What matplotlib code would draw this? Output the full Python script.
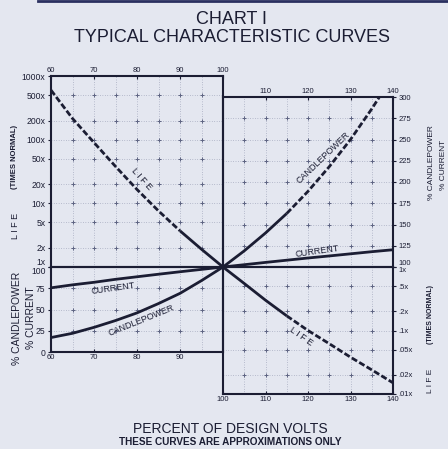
import numpy as np
import matplotlib.pyplot as plt
from matplotlib.lines import Line2D
from matplotlib.ticker import NullLocator

W, H = 448, 449
BG = '#e4e7f0'
INK = '#1b1d33'
GRID = '#8c92ab'
FONT = 'Liberation Sans'

# values, x = percent of design volts
volts_low = [60, 65, 70, 75, 80, 85, 90, 95, 100]
life_low = [600, 215, 90, 38, 16.5, 7.6, 3.7, 1.9, 1.0]
current_low = [75.5, 79, 82, 85.5, 88.5, 91.5, 94.4, 97.2, 100]
cp_low = [17, 22, 29, 37, 46, 57, 69, 84, 100]

volts_high = [100, 105, 110, 115, 120, 125, 130, 135, 140]
life_high = [1.0, 0.55, 0.30, 0.17, 0.10, 0.062, 0.038, 0.024, 0.015]
current_high = [100, 102.7, 105.4, 108, 110.6, 113, 115.5, 118, 120.3]
cp_high = [100, 119, 140, 163, 189, 218, 250, 286, 325]

# tick labels
life_up_ticks = [1000, 500, 200, 100, 50, 20, 10, 5, 2, 1]
life_up_labels = ['1000x', '500x', '200x', '100x', '50x', '20x', '10x', '5x', '2x', '1x']
pct_low_ticks = [0, 25, 50, 75, 100]
pct_high_ticks = [100, 125, 150, 175, 200, 225, 250, 275, 300]
life_down_ticks = [1, 0.5, 0.2, 0.1, 0.05, 0.02, 0.01]
life_down_labels = ['1x', '.5x', '.2x', '.1x', '.05x', '.02x', '.01x']


def panel(fig, x0, y0, x1, y1):
    ax = fig.add_axes([x0 / W, 1 - y1 / H, (x1 - x0) / W, (y1 - y0) / H])
    ax.set_facecolor('none')
    for sp in ax.spines.values():
        sp.set_linewidth(1.5)
        sp.set_color(INK)
    ax.tick_params(labelsize=5.5, pad=1.5, length=2.5, width=0.8,
                   colors=INK, labelfontfamily=FONT)
    return ax


def grid(ax, gx, gy):
    for v in gx:
        ax.axvline(v, color=GRID, lw=0.5, ls=(0, (1, 2.5)), zorder=1)
    for v in gy:
        ax.axhline(v, color=GRID, lw=0.5, ls=(0, (1, 2.5)), zorder=1)
    X, Y = np.meshgrid(gx, gy)
    ax.plot(X.ravel(), Y.ravel(), '+', ms=3.5, mew=0.7, color='#5e6482', zorder=1)


def curve(ax, x, y, dashed=False):
    ls = (0, (2.2, 0.9)) if dashed else '-'
    ax.plot(x, y, color=INK, lw=2.0, ls=ls, zorder=3, solid_capstyle='butt')


fig = plt.figure(figsize=(W / 100, H / 100), dpi=100, facecolor=BG)

# upper left: life, log scale
ax_lt = panel(fig, 51, 76, 223, 267)
ax_lt.set_xlim(60, 100)
ax_lt.set_yscale('log')
ax_lt.set_ylim(1, 1000)
ax_lt.yaxis.set_minor_locator(NullLocator())
ax_lt.set_yticks(life_up_ticks)
ax_lt.set_yticklabels(life_up_labels)
ax_lt.tick_params(axis='y', labelsize=6.2)
ax_lt.xaxis.tick_top()
ax_lt.set_xticks([60, 70, 80, 90, 100])
ax_lt.tick_params(axis='x', length=2, direction='in')
grid(ax_lt, [65, 70, 75, 80, 85, 90, 95], life_up_ticks[1:-1])
curve(ax_lt, volts_low[:7], life_low[:7], dashed=True)
curve(ax_lt, volts_low[6:], life_low[6:])

# lower left: % candlepower / current
ax_lb = panel(fig, 51, 267, 223, 352)
ax_lb.set_xlim(60, 100)
ax_lb.set_ylim(0, 100)
ax_lb.set_yticks(pct_low_ticks)
ax_lb.set_yticklabels([str(v) for v in pct_low_ticks])
ax_lb.tick_params(axis='y', labelsize=6.2)
ax_lb.set_xticks([60, 70, 80, 90])
ax_lb.tick_params(axis='x', length=2, direction='in')
grid(ax_lb, [65, 70, 75, 80, 85, 90, 95], [25, 50, 75])
curve(ax_lb, volts_low, current_low)
curve(ax_lb, volts_low, cp_low)

# upper right: % candlepower / current
ax_rt = panel(fig, 223, 97, 393, 267)
ax_rt.set_xlim(100, 140)
ax_rt.set_ylim(100, 300)
ax_rt.yaxis.tick_right()
ax_rt.set_yticks(pct_high_ticks)
ax_rt.set_yticklabels([str(v) for v in pct_high_ticks])
ax_rt.xaxis.tick_top()
ax_rt.set_xticks([110, 120, 130, 140])
ax_rt.tick_params(axis='x', length=2, direction='in')
grid(ax_rt, [105, 110, 115, 120, 125, 130, 135], pct_high_ticks[1:-1])
curve(ax_rt, volts_high, current_high)
curve(ax_rt, volts_high[:4], cp_high[:4])
curve(ax_rt, volts_high[3:], cp_high[3:], dashed=True)

# lower right: life, log scale
ax_rb = panel(fig, 223, 267, 393, 394)
ax_rb.set_xlim(100, 140)
ax_rb.set_yscale('log')
ax_rb.set_ylim(0.01, 1)
ax_rb.yaxis.set_minor_locator(NullLocator())
ax_rb.yaxis.tick_right()
ax_rb.set_yticks(life_down_ticks)
ax_rb.set_yticklabels(life_down_labels)
ax_rb.set_xticks([100, 110, 120, 130, 140])
ax_rb.tick_params(axis='x', length=2, direction='in')
grid(ax_rb, [105, 110, 115, 120, 125, 130, 135], life_down_ticks[1:-1])
curve(ax_rb, volts_high[:4], life_high[:4])
curve(ax_rb, volts_high[3:], life_high[3:], dashed=True)

# split the labels that sit on the 1x / 100 line
for lab in ax_lt.get_yticklabels():
    if lab.get_text() == '1x':
        lab.set_va('bottom')
for lab in ax_lb.get_yticklabels():
    if lab.get_text() == '100':
        lab.set_va('top')
for lab in ax_rt.get_yticklabels():
    if lab.get_text() == '100':
        lab.set_va('bottom')
for lab in ax_rb.get_yticklabels():
    if lab.get_text() == '1x':
        lab.set_va('top')

# curve names
lab_kw = dict(fontsize=6.5, color=INK, ha='center', va='center',
              rotation_mode='anchor', family=FONT, zorder=4)
ax_lt.text(81, 24, 'L I F E', rotation=-48, **lab_kw)
ax_lb.text(74.5, 75, 'CURRENT', rotation=8, **lab_kw)
ax_lb.text(81, 37, 'CANDLEPOWER', rotation=22, **lab_kw)
ax_rt.text(123.5, 228, 'CANDLEPOWER', rotation=44, **lab_kw)
ax_rt.text(122, 118, 'CURRENT', rotation=8, **lab_kw)
ax_rb.text(118.5, 0.08, 'L I F E', rotation=-35, **lab_kw)


def ptext(x, y, s, **kw):
    fig.text(x / W, 1 - y / H, s, color=INK, family=FONT,
             ha='center', va='center', **kw)


ptext(231, 20, 'CHART I', fontsize=13)
ptext(232, 38, 'TYPICAL CHARACTERISTIC CURVES', fontsize=13)
ptext(230, 429, 'PERCENT OF DESIGN VOLTS', fontsize=10)
ptext(230, 442, 'THESE CURVES ARE APPROXIMATIONS ONLY', fontsize=7.2, weight='bold')

# side titles
ptext(15, 226, 'L I F E', fontsize=6.5, rotation=90)
ptext(15, 157, '(TIMES NORMAL)', fontsize=5.5, rotation=90, weight='bold')
ptext(17, 318, '% CANDLEPOWER', fontsize=7.5, rotation=90)
ptext(31, 318, '% CURRENT', fontsize=7.5, rotation=90)
ptext(431, 163, '% CANDLEPOWER', fontsize=6, rotation=90)
ptext(443, 165, '% CURRENT', fontsize=6, rotation=90)
ptext(430, 381, 'L I F E', fontsize=6, rotation=90)
ptext(430, 315, '(TIMES NORMAL)', fontsize=5, rotation=90, weight='bold')

# page edge line at the top of the scan
fig.add_artist(Line2D([38 / W, 1], [1 - 1 / H, 1 - 1 / H], color='#2a3060', lw=2))

fig.savefig('out.png', dpi=100, facecolor=BG)
